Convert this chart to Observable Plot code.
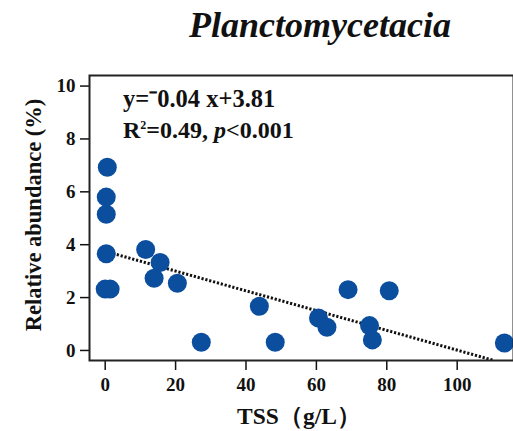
<!DOCTYPE html>
<html>
<head>
<meta charset="utf-8">
<script src="https://cdn.jsdelivr.net/npm/d3@7"></script>
<script src="https://cdn.jsdelivr.net/npm/@observablehq/plot@0.6"></script>
<style>
  html, body { margin: 0; padding: 0; background: #fff; }
</style>
</head>
<body>
<div id="chart"></div>
<script>
// Data
const tss = [0.6, 0.3, 0.3, 0.3, 0, 1.4, 11.5, 15.6, 13.9, 20.5, 27.3, 43.8, 48.3, 60.6, 63.0, 69.0, 75.1, 75.9, 80.7, 113.4];
const abundance = [6.93, 5.80, 5.15, 3.66, 2.32, 2.32, 3.82, 3.33, 2.73, 2.54, 0.31, 1.67, 0.31, 1.23, 0.88, 2.30, 0.94, 0.40, 2.26, 0.28];
const fitX = [0, 110.5];
const fitY = [3.75, -0.38];
const xTicks = [0, 20, 40, 60, 80, 100];
const yTicks = [0, 2, 4, 6, 8, 10];
const titleText = "Planctomycetacia";
const xLabel = "TSS（g/L）";
const yLabel = "Relative abundance (%)";
const eqLine = "y=⁻0.04 x+3.81";

const points = tss.map((x, i) => ({x, y: abundance[i]}));
const fit = fitX.map((x, i) => ({x, y: fitY[i]}));

const W = 513, H = 431;
const font = "Liberation Serif, Times New Roman, serif";
const plot = Plot.plot({
  width: W,
  height: H,
  marginLeft: 89,
  marginRight: 0,
  marginTop: 75,
  marginBottom: 71,
  style: {fontFamily: font, fontSize: "19px", fontWeight: "bold", color: "#111", background: "#fff"},
  x: {domain: [-4.46, 116]},
  y: {domain: [-0.38, 10.4]},
  marks: [
    Plot.axisX({ticks: xTicks, tickSize: 10, tickPadding: 7, label: null, strokeWidth: 1.5, fontSize: 19, fontWeight: "bold"}),
    Plot.axisY({ticks: yTicks, tickSize: 9, tickPadding: 5, label: null, strokeWidth: 1.5, fontSize: 19, fontWeight: "bold"}),
    Plot.line(fit, {x: "x", y: "y", stroke: "#111", strokeWidth: 3, strokeDasharray: "2.2,1.8", strokeLinecap: "butt", clip: true}),
    Plot.dot(points, {x: "x", y: "y", r: 9.5, fill: "#0b4e9e", stroke: "none"}),
    Plot.frame({stroke: "#222", strokeWidth: 2})
  ]
});
document.getElementById("chart").appendChild(plot);

const svg = d3.select(plot);
svg.append("text")
  .attr("x", 320).attr("y", 37)
  .attr("text-anchor", "middle")
  .attr("font-family", font).attr("font-size", 36)
  .attr("font-weight", "bold").attr("font-style", "italic")
  .attr("fill", "#111")
  .text(titleText);

svg.append("text")
  .attr("transform", "translate(41,215) rotate(-90)")
  .attr("text-anchor", "middle")
  .attr("font-family", font).attr("font-size", 22.5)
  .attr("font-weight", "bold").attr("fill", "#111")
  .text(yLabel);

svg.append("text")
  .attr("x", 299).attr("y", 424)
  .attr("text-anchor", "middle")
  .attr("font-family", font).attr("font-size", 23.5)
  .attr("font-weight", "bold").attr("fill", "#111")
  .text(xLabel);

svg.append("text")
  .attr("x", 123).attr("y", 107)
  .attr("text-anchor", "start")
  .attr("font-family", font).attr("font-size", 24.5)
  .attr("font-weight", "bold").attr("fill", "#111")
  .text(eqLine);

const t2 = svg.append("text")
  .attr("x", 123).attr("y", 138)
  .attr("text-anchor", "start")
  .attr("font-family", font).attr("font-size", 24)
  .attr("font-weight", "bold").attr("fill", "#111");
t2.append("tspan").text("R");
t2.append("tspan").attr("dy", -9).attr("font-size", 12).text("2");
t2.append("tspan").attr("dy", 9).text("=0.49, ");
t2.append("tspan").attr("font-style", "italic").text("p");
t2.append("tspan").text("<0.001");
</script>
</body>
</html>
